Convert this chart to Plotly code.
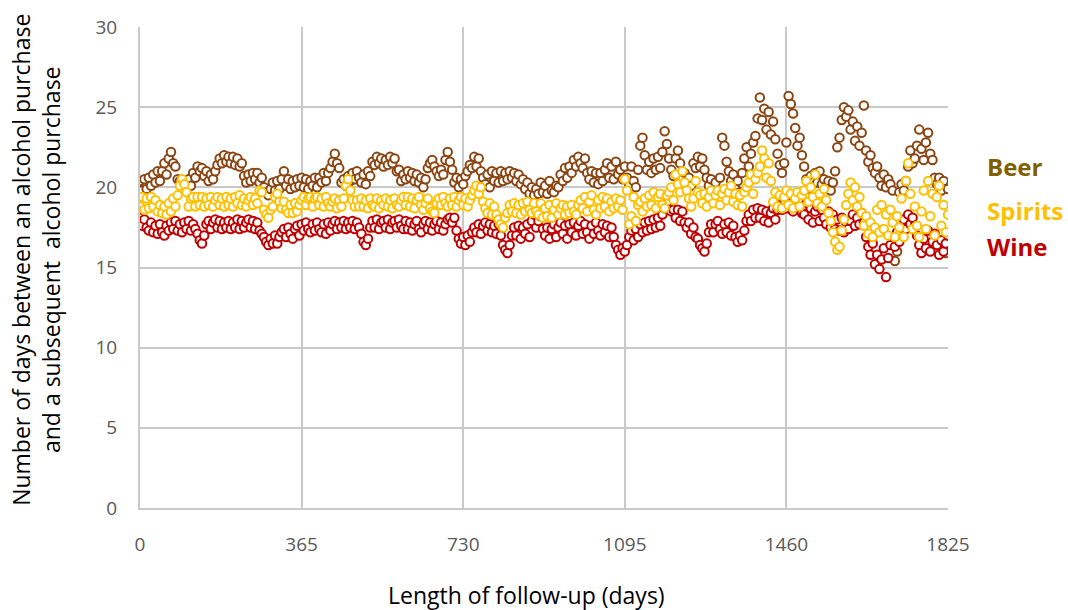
import plotly.graph_objects as go

# Follow-up day for each observation (every 5 days, 0..1825)
days = list(range(0, 1826, 5))

beer = [
    20.4, 19.8, 20.5, 19.9, 20.6, 20.1, 20.8, 20.3, 21.0, 20.4, 21.0, 21.5, 20.8, 21.8, 22.2, 21.5, 21.3, 20.5, 20.4, 19.9,
    20.3, 19.9, 20.5, 20.1, 20.9, 20.6, 21.3, 21.0, 21.2, 20.7, 21.0, 20.4, 20.8, 20.5, 21.0, 21.4, 21.8, 21.5, 22.0, 21.6,
    21.9, 21.5, 21.9, 21.4, 21.8, 21.3, 21.5, 20.7, 20.3, 20.8, 20.4, 20.9, 20.5, 20.9, 20.3, 20.6, 20.0, 19.7, 19.5, 19.9,
    20.3, 19.8, 20.4, 19.9, 20.5, 21.0, 20.1, 20.5, 19.9, 20.4, 20.0, 20.5, 20.1, 20.6, 20.0, 20.5, 19.9, 20.4, 20.1, 20.6,
    20.0, 20.6, 20.3, 20.9, 20.4, 20.9, 21.2, 21.6, 22.1, 21.5, 21.2, 20.3, 20.5, 20.1, 20.7, 20.4, 20.9, 20.5, 21.0, 20.6,
    20.3, 20.8, 20.2, 21.0, 20.7, 21.6, 21.4, 21.9, 21.5, 21.8, 21.3, 21.7, 21.4, 21.9, 21.5, 21.8, 21.0, 21.1, 20.4, 20.8,
    20.5, 21.0, 20.6, 20.9, 20.4, 20.8, 20.3, 20.6, 20.0, 20.5, 21.2, 21.5, 21.7, 21.3, 21.0, 20.7, 21.1, 20.8, 21.7, 22.2,
    21.6, 21.1, 20.3, 20.6, 20.0, 20.5, 20.2, 20.7, 21.0, 21.4, 21.2, 21.9, 21.3, 21.8, 21.0, 20.6, 20.2, 20.8, 20.0, 21.0,
    20.4, 20.9, 20.3, 21.0, 20.4, 20.9, 20.5, 21.0, 20.6, 20.9, 20.4, 20.8, 20.2, 20.5, 19.9, 20.3, 19.6, 20.0, 19.5, 19.9,
    19.6, 20.3, 19.7, 20.1, 19.6, 20.4, 19.8, 19.7, 20.1, 20.0, 20.8, 20.4, 21.2, 20.6, 21.3, 20.9, 21.7, 21.3, 21.9, 21.5,
    21.2, 21.8, 20.9, 20.5, 21.0, 20.3, 20.9, 20.2, 20.9, 20.4, 21.1, 21.5, 20.6, 21.3, 20.5, 21.6, 20.8, 21.1, 20.5, 21.3,
    20.6, 20.1, 21.3, 20.4, 20.0, 21.1, 22.6, 23.1, 22.0, 21.1, 21.6, 20.9, 21.8, 21.1, 21.9, 21.2, 22.2, 23.5, 22.7, 21.8,
    21.1, 20.7, 21.8, 22.3, 21.5, 20.5, 20.9, 20.2, 20.6, 20.1, 21.5, 21.2, 21.9, 21.3, 21.8, 21.1, 20.6, 20.1, 20.5, 19.6,
    20.3, 19.7, 20.6, 23.1, 22.6, 21.6, 21.0, 20.4, 20.8, 19.9, 20.4, 19.7, 20.9, 21.8, 22.5, 21.3, 22.1, 22.8, 23.2, 24.3,
    25.6, 24.2, 24.9, 23.6, 24.7, 23.3, 24.1, 23.0, 22.1, 21.4, 20.9, 21.5, 22.8, 25.7, 25.2, 24.6, 23.7, 22.6, 23.1, 22.0,
    21.3, 20.5, 19.9, 20.7, 20.3, 20.9, 20.3, 21.0, 20.2, 20.5, 19.9, 20.4, 19.8, 20.3, 21.0, 22.5, 23.1, 24.2, 25.0, 24.4,
    24.8, 23.6, 24.1, 22.9, 23.8, 22.6, 23.4, 25.1, 22.3, 21.6, 22.0, 21.2, 20.9, 21.3, 20.6, 20.1, 20.8, 20.0, 20.5, 20.2,
    19.8, 15.4, 16.0, 19.7, 20.2, 19.8, 20.4, 21.3, 22.3, 21.5, 21.8, 22.6, 23.6, 22.4, 21.7, 22.8, 23.4, 22.1, 21.7, 20.6,
    20.2, 20.6, 19.8, 20.4, 15.9, 19.9,
]

spirits = [
    18.8, 19.4, 18.6, 19.3, 18.7, 19.4, 18.8, 19.2, 18.5, 18.9, 18.4, 18.8, 18.3, 19.0, 18.5, 19.3, 18.8, 19.5, 20.1, 20.5,
    20.2, 19.7, 18.8, 19.3, 19.4, 18.8, 19.4, 18.9, 19.4, 18.8, 19.3, 18.9, 19.4, 18.8, 19.2, 19.4, 18.9, 19.3, 18.8, 19.4,
    18.9, 19.3, 18.8, 19.4, 19.0, 19.5, 18.9, 19.3, 18.8, 19.2, 19.4, 18.9, 19.3, 19.0, 19.8, 19.7, 18.6, 18.3, 18.1, 18.6,
    18.8, 19.4, 19.6, 19.1, 18.7, 19.1, 18.6, 18.4, 18.9, 18.4, 19.0, 18.5, 18.9, 19.2, 19.4, 18.9, 19.3, 19.4, 18.8, 19.3,
    19.4, 18.9, 19.3, 18.8, 19.4, 19.0, 18.8, 19.1, 19.3, 18.7, 19.2, 18.8, 19.3, 20.1, 20.5, 19.8, 19.2, 18.8, 19.2, 18.8,
    19.3, 18.8, 19.2, 18.7, 19.3, 18.9, 18.8, 19.3, 18.7, 19.2, 18.9, 19.3, 18.8, 19.2, 18.7, 19.3, 18.9, 18.8, 19.2, 19.4,
    18.9, 19.4, 18.8, 19.3, 18.7, 19.2, 19.4, 18.9, 18.6, 19.0, 19.3, 18.7, 18.5, 18.4, 19.0, 19.3, 18.9, 19.4, 19.0, 18.8,
    19.3, 18.9, 19.4, 18.8, 19.2, 19.4, 18.9, 19.3, 18.8, 19.2, 19.5, 19.8, 20.1, 19.6, 20.0, 19.1, 18.7, 18.4, 19.0, 18.3,
    18.8, 18.3, 18.0, 17.7, 17.5, 18.1, 18.4, 18.9, 18.5, 19.0, 18.4, 18.9, 18.3, 19.0, 18.5, 19.1, 18.6, 18.4, 19.0, 18.5,
    18.3, 19.0, 18.1, 18.7, 18.2, 18.9, 18.1, 18.6, 19.0, 18.3, 18.7, 18.9, 18.3, 18.8, 18.4, 18.9, 18.5, 18.3, 18.9, 19.2,
    18.7, 19.4, 18.5, 19.1, 19.5, 18.6, 18.3, 19.2, 18.7, 19.4, 18.8, 19.3, 18.5, 19.1, 18.7, 19.3, 18.8, 19.2, 18.6, 20.5,
    19.8, 17.7, 18.2, 19.4, 17.9, 18.9, 19.1, 18.5, 19.3, 18.8, 19.5, 18.9, 19.7, 18.7, 19.4, 19.6, 18.9, 18.7, 19.5, 19.7,
    20.0, 19.2, 20.8, 20.2, 19.7, 21.0, 20.3, 19.8, 19.3, 18.8, 19.3, 20.4, 19.7, 19.5, 19.0, 19.6, 18.8, 19.4, 19.8, 19.0,
    19.5, 19.8, 18.9, 19.6, 19.9, 19.2, 19.7, 20.1, 19.1, 19.6, 18.9, 19.5, 18.8, 19.7, 20.0, 20.3, 20.8, 19.6, 20.5, 20.9,
    21.3, 22.3, 21.8, 20.6, 21.5, 20.4, 19.1, 19.7, 18.8, 19.5, 18.7, 19.4, 19.8, 18.9, 19.6, 18.7, 19.3, 19.7, 18.8, 19.5,
    19.8, 20.4, 19.1, 20.0, 19.4, 20.8, 19.0, 19.6, 18.8, 19.9, 19.2, 18.4, 17.9, 17.2, 16.6, 16.1, 16.3, 17.3, 18.0, 18.9,
    19.6, 20.3, 19.2, 20.0, 18.8, 19.4, 18.4, 17.6, 18.2, 17.1, 17.8, 16.9, 17.5, 18.6, 17.2, 18.9, 17.4, 18.3, 17.0, 18.6,
    17.8, 16.9, 18.2, 17.5, 19.3, 16.9, 20.4, 21.5, 19.6, 17.4, 18.8, 17.6, 16.9, 18.5, 19.8, 17.4, 20.4, 18.2, 19.6, 17.0,
    19.4, 20.1, 17.6, 18.9, 17.2, 18.3,
]

wine = [
    18.1, 17.6, 18.0, 17.5, 17.3, 17.8, 17.2, 17.6, 17.1, 17.7, 17.2, 17.0, 17.6, 17.3, 17.8, 17.4, 17.9, 17.3, 17.7, 17.2,
    17.8, 17.4, 17.9, 17.3, 17.7, 17.4, 17.1, 16.7, 16.5, 17.0, 17.7, 17.9, 17.4, 17.8, 18.0, 17.5, 17.9, 17.4, 17.8, 17.5,
    17.9, 17.4, 17.8, 17.5, 18.0, 17.4, 17.9, 17.5, 17.8, 18.0, 17.5, 17.9, 17.4, 17.8, 17.3, 17.1, 16.9, 16.6, 16.4, 16.8,
    16.5, 17.0, 16.5, 16.9, 17.2, 17.4, 16.9, 17.5, 17.1, 16.8, 17.4, 17.6, 17.0, 17.7, 17.3, 17.8, 17.4, 17.2, 17.7, 17.3,
    17.8, 17.4, 17.2, 17.7, 17.1, 17.8, 17.3, 17.7, 17.9, 17.4, 17.8, 17.5, 17.9, 17.4, 17.8, 17.5, 17.9, 17.4, 17.8, 17.5,
    17.1, 16.6, 16.4, 16.8, 17.5, 17.9, 17.5, 18.0, 17.4, 17.8, 17.9, 17.5, 18.0, 17.4, 17.8, 17.9, 17.5, 18.0, 17.6, 17.4,
    17.9, 17.4, 17.8, 17.3, 17.7, 17.9, 17.4, 17.2, 17.7, 17.9, 17.4, 17.8, 17.3, 17.7, 17.9, 17.4, 17.8, 17.3, 17.7, 18.0,
    18.1, 17.8, 18.1, 17.3, 16.8, 16.5, 16.9, 16.4, 17.0, 16.6, 17.2, 17.5, 17.2, 17.7, 17.1, 17.6, 17.8, 17.3, 17.7, 17.2,
    17.6, 17.1, 17.7, 17.0, 16.4, 16.1, 15.9, 16.4, 17.0, 17.5, 17.0, 17.6, 16.8, 17.5, 17.1, 17.7, 16.9, 17.9, 18.3, 17.5,
    17.9, 18.2, 17.4, 17.0, 17.5, 16.8, 17.4, 17.7, 16.9, 17.5, 17.8, 17.1, 17.6, 16.8, 17.7, 17.2, 17.8, 17.0, 17.6, 17.9,
    17.1, 17.7, 17.2, 16.8, 17.6, 17.1, 17.8, 17.3, 17.0, 17.7, 17.2, 17.6, 16.9, 17.5, 16.9, 16.4, 16.1, 15.8, 16.2, 16.0,
    16.4, 16.9, 17.3, 16.7, 17.4, 16.9, 17.7, 17.2, 17.8, 17.3, 17.9, 17.4, 18.0, 17.5, 18.1, 17.6, 18.3, 18.7, 19.0, 18.6,
    18.5, 18.6, 18.1, 18.6, 17.9, 18.5, 17.8, 17.5, 17.8, 17.1, 17.5, 16.9, 16.8, 16.4, 16.2, 16.0, 16.5, 17.2, 17.7, 17.2,
    17.7, 17.9, 17.4, 17.1, 17.7, 17.2, 17.8, 17.0, 17.6, 16.9, 16.6, 17.0, 16.7, 17.3, 17.9, 18.3, 17.9, 18.6, 18.1, 18.7,
    18.1, 18.6, 17.9, 18.5, 17.8, 18.4, 18.7, 18.0, 18.6, 18.9, 18.6, 19.2, 18.7, 19.4, 19.0, 18.5, 19.3, 18.8, 19.2, 18.4,
    18.3, 19.0, 18.0, 18.7, 17.8, 18.5, 18.8, 17.9, 18.6, 18.1, 17.7, 18.5, 17.5, 18.3, 17.4, 18.0, 17.3, 18.1, 17.2, 17.8,
    17.4, 17.9, 18.3, 17.6, 18.1, 17.7, 18.4, 17.8, 16.9, 16.3, 15.8, 16.5, 15.2, 15.8, 14.9, 15.5, 16.2, 14.4, 15.6, 16.4,
    16.9, 16.3, 17.2, 16.6, 17.5, 18.0, 17.4, 18.3, 17.7, 18.1, 17.6, 17.0, 16.4, 15.9, 16.8, 16.2, 17.3, 16.0, 16.6, 17.1,
    16.4, 15.8, 16.7, 16.0, 16.5, 17.0,
]

x_ticks = [0, 365, 730, 1095, 1460, 1825]
y_ticks = [0, 5, 10, 15, 20, 25, 30]

# name, values, marker colour, label colour, label position (y value)
series = [
    ("Beer", beer, "#8B4513", "#7F6000", 21.27),
    ("Wine", wine, "#C00000", "#C00000", 16.28),
    ("Spirits", spirits, "#FFC000", "#FFC000", 18.53),
]

FONT = "Open Sans"
GRID = "#C9C9C9"

fig = go.Figure()
for name, vals, col, _, _ in series:
    fig.add_trace(go.Scatter(
        x=days, y=vals, mode="markers", name=name,
        marker=dict(symbol="circle", size=8.5, color="white",
                    line=dict(color=col, width=2)),
        showlegend=False,
    ))

for name, _, _, lab_col, ypos in series:
    fig.add_annotation(
        x=1.046, xref="paper", y=ypos, yref="y",
        xanchor="left", yanchor="middle", showarrow=False,
        text=f"<b>{name}</b>",
        font=dict(family=FONT, size=24, color=lab_col),
    )

# Axis titles
fig.add_annotation(
    x=-0.128, xref="paper", y=0.515, yref="paper",
    xanchor="center", yanchor="middle", showarrow=False, textangle=-90,
    text="Number of days between an alcohol purchase<br>and a subsequent  alcohol purchase",
    font=dict(family=FONT, size=23, color="#000000"),
)
fig.add_annotation(
    x=0.478, xref="paper", y=-0.181, yref="paper",
    xanchor="center", yanchor="middle", showarrow=False,
    text="Length of follow-up (days)",
    font=dict(family=FONT, size=23, color="#000000"),
)

fig.update_layout(
    width=1068, height=610,
    margin=dict(l=140, r=120, t=27, b=102),
    paper_bgcolor="white", plot_bgcolor="white",
    font=dict(family=FONT, color="#595959"),
    xaxis=dict(
        range=[0, 1825], tickvals=x_ticks, ticktext=[str(t) for t in x_ticks],
        showgrid=True, gridcolor=GRID, gridwidth=2,
        zeroline=False, showline=True, linecolor=GRID, linewidth=2,
        ticks="", ticklabelstandoff=18, automargin=False,
        tickfont=dict(family=FONT, size=19, color="#595959"),
    ),
    yaxis=dict(
        range=[0, 30], tickvals=y_ticks,
        showgrid=True, gridcolor=GRID, gridwidth=2,
        zeroline=False, showline=True, linecolor=GRID, linewidth=2,
        ticks="", ticklabelstandoff=17, automargin=False,
        tickfont=dict(family=FONT, size=19, color="#595959"),
    ),
)

fig.write_html("out.html")
